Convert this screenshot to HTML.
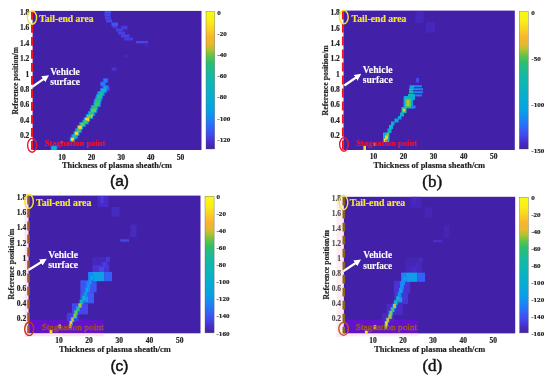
<!DOCTYPE html>
<html><head><meta charset="utf-8"><style>html,body{margin:0;padding:0;background:#fff;width:550px;height:382px;overflow:hidden}svg{display:block;will-change:transform}</style></head>
<body><svg width="550" height="382" viewBox="0 0 550 382"><defs><filter id="bl" x="-20%" y="-20%" width="140%" height="140%"><feGaussianBlur stdDeviation="0.65"/></filter><marker id="ah" viewBox="0 0 10 10" refX="6" refY="5" markerWidth="3.2" markerHeight="3.2" orient="auto"><path d="M0,0 L10,5 L0,10 z" fill="#fff"/></marker><linearGradient id="gcb" x1="0" y1="0" x2="0" y2="1"><stop offset="0.000" stop-color="#f9fa10"/><stop offset="0.070" stop-color="#faee16"/><stop offset="0.130" stop-color="#fad223"/><stop offset="0.190" stop-color="#f8b42d"/><stop offset="0.240" stop-color="#e6b92d"/><stop offset="0.280" stop-color="#aac330"/><stop offset="0.320" stop-color="#64c446"/><stop offset="0.370" stop-color="#2dbe6e"/><stop offset="0.450" stop-color="#16baa0"/><stop offset="0.550" stop-color="#0cb4be"/><stop offset="0.640" stop-color="#06acd4"/><stop offset="0.720" stop-color="#08a0e6"/><stop offset="0.780" stop-color="#1987f6"/><stop offset="0.830" stop-color="#2d6cfa"/><stop offset="0.900" stop-color="#4448eb"/><stop offset="0.950" stop-color="#482dc8"/><stop offset="1.000" stop-color="#4222a8"/></linearGradient><clipPath id="cpa"><rect x="32.6" y="10.9" width="168.90" height="139.10"/></clipPath><clipPath id="cpb"><rect x="343.5" y="10.6" width="171.30" height="139.40"/></clipPath><clipPath id="cpc"><rect x="28.3" y="195.6" width="172.20" height="137.70"/></clipPath><clipPath id="cpd"><rect x="343.6" y="196.8" width="171.60" height="136.60"/></clipPath></defs><rect x="32.6" y="10.9" width="168.90" height="139.10" fill="#4320a8"/><g clip-path="url(#cpa)"><g filter="url(#bl)"><rect x="104.5" y="11.2" width="6.50" height="2.30" fill="#3b55f2"/><rect x="104.5" y="13.5" width="6.00" height="3.00" fill="#4644eb"/><rect x="105" y="16.5" width="6.00" height="3.00" fill="#463fe4"/><rect x="106" y="19.5" width="6.00" height="3.00" fill="#4644eb"/><rect x="111.5" y="22.5" width="6.50" height="3.50" fill="#3b55f2"/><rect x="112.5" y="26" width="5.00" height="2.00" fill="#473add"/><rect x="121" y="25.7" width="6.50" height="3.80" fill="#473add"/><rect x="116" y="28.5" width="6.50" height="3.00" fill="#463fe4"/><rect x="118" y="31.5" width="7.00" height="3.00" fill="#463fe4"/><rect x="121" y="34.5" width="8.50" height="3.00" fill="#463fe4"/><rect x="124" y="37.5" width="9.00" height="3.00" fill="#473add"/><rect x="136" y="41" width="12.00" height="2.30" fill="#4644eb"/><rect x="145" y="44.5" width="3.00" height="2.10" fill="#472ac2"/><rect x="124.5" y="55" width="3.00" height="2.50" fill="#482cc8"/><rect x="111.5" y="67.7" width="5.10" height="2.80" fill="#4736d6"/><rect x="104.7" y="87" width="4.90" height="4.10" fill="#4644eb"/><rect x="102.8" y="78.2" width="5.40" height="4.60" fill="#3f4ff0"/><rect x="100.05" y="81.7" width="5.90" height="4.60" fill="#3f4ff0"/><rect x="102.3" y="85.2" width="6.40" height="4.60" fill="#3d53f1"/><rect x="100.05" y="88.2" width="6.90" height="4.60" fill="#2676fa"/><rect x="97.3" y="91.2" width="7.40" height="4.60" fill="#217cf9"/><rect x="96.05" y="94.2" width="6.90" height="4.60" fill="#1888f6"/><rect x="95.05" y="96.7" width="6.90" height="4.60" fill="#1b83f7"/><rect x="93.8" y="99.2" width="7.40" height="4.60" fill="#1888f6"/><rect x="93.3" y="102.2" width="7.40" height="4.60" fill="#1290f2"/><rect x="90.8" y="105.2" width="7.40" height="4.60" fill="#1888f6"/><rect x="89.8" y="108.2" width="7.40" height="4.60" fill="#0e98ec"/><rect x="87.8" y="111.2" width="7.40" height="4.60" fill="#1888f6"/><rect x="85.8" y="114.2" width="7.40" height="4.60" fill="#0c9be9"/><rect x="83.8" y="117.2" width="6.40" height="4.60" fill="#08a2e4"/><rect x="82.3" y="119.7" width="6.40" height="4.60" fill="#1290f2"/><rect x="79.3" y="122.2" width="6.40" height="4.60" fill="#0e98ec"/><rect x="77.05" y="125.2" width="5.90" height="4.60" fill="#08a2e4"/><rect x="75.3" y="128.20000000000002" width="6.40" height="4.60" fill="#1290f2"/><rect x="73.55" y="131.20000000000002" width="5.90" height="4.60" fill="#08a2e4"/><rect x="71.3" y="134.20000000000002" width="6.40" height="4.60" fill="#1888f6"/><rect x="69.8" y="137.20000000000002" width="5.40" height="4.60" fill="#08a2e4"/><rect x="104.0" y="78.8" width="3.00" height="3.40" fill="#227bf9"/><rect x="101.25" y="82.3" width="3.50" height="3.40" fill="#1a85f7"/><rect x="103.5" y="85.8" width="4.00" height="3.40" fill="#0c9be9"/><rect x="101.25" y="88.8" width="4.50" height="3.40" fill="#0eb8b9"/><rect x="98.5" y="91.8" width="5.00" height="3.40" fill="#12bcac"/><rect x="97.25" y="94.8" width="4.50" height="3.40" fill="#25c18a"/><rect x="96.25" y="97.3" width="4.50" height="3.40" fill="#1ebf98"/><rect x="95.0" y="99.8" width="5.00" height="3.40" fill="#25c18a"/><rect x="94.5" y="102.8" width="5.00" height="3.40" fill="#42c568"/><rect x="92.0" y="105.8" width="5.00" height="3.40" fill="#25c18a"/><rect x="91.0" y="108.8" width="5.00" height="3.40" fill="#69c847"/><rect x="89.0" y="111.8" width="5.00" height="3.40" fill="#25c18a"/><rect x="87.0" y="114.8" width="5.00" height="3.40" fill="#7dc73e"/><rect x="85.0" y="117.8" width="4.00" height="3.40" fill="#fbd423"/><rect x="83.5" y="120.3" width="4.00" height="3.40" fill="#42c568"/><rect x="80.5" y="122.8" width="4.00" height="3.40" fill="#69c847"/><rect x="78.25" y="125.8" width="3.50" height="3.40" fill="#fadc20"/><rect x="76.5" y="128.8" width="4.00" height="3.40" fill="#42c568"/><rect x="74.75" y="131.8" width="3.50" height="3.40" fill="#fbd423"/><rect x="72.5" y="134.8" width="4.00" height="3.40" fill="#25c18a"/><rect x="71.0" y="137.8" width="3.00" height="3.40" fill="#fadc20"/><rect x="91.2" y="114.6" width="1.60" height="2.00" fill="#f7b82e"/><rect x="50.8" y="145.5" width="6.50" height="4.50" fill="#227bf9"/><rect x="51.8" y="146.3" width="4.50" height="3.70" fill="#0eb8b9"/><rect x="60.7" y="141.2" width="2.30" height="2.40" fill="#08a2e4"/></g></g><rect x="206" y="11.5" width="8.70" height="137.50" fill="url(#gcb)" stroke="#555" stroke-width="0.35"/><text x="217.3" y="14.5" font-size="7.1" text-anchor="start" fill="#222" stroke="#222" stroke-width="0.18" font-family="Liberation Serif" font-weight="bold">0</text><text x="217.3" y="35.7" font-size="7.1" text-anchor="start" fill="#222" stroke="#222" stroke-width="0.18" font-family="Liberation Serif" font-weight="bold">-20</text><text x="217.3" y="56.9" font-size="7.1" text-anchor="start" fill="#222" stroke="#222" stroke-width="0.18" font-family="Liberation Serif" font-weight="bold">-40</text><text x="217.3" y="78.1" font-size="7.1" text-anchor="start" fill="#222" stroke="#222" stroke-width="0.18" font-family="Liberation Serif" font-weight="bold">-60</text><text x="217.3" y="99.3" font-size="7.1" text-anchor="start" fill="#222" stroke="#222" stroke-width="0.18" font-family="Liberation Serif" font-weight="bold">-80</text><text x="217.3" y="120.5" font-size="7.1" text-anchor="start" fill="#222" stroke="#222" stroke-width="0.18" font-family="Liberation Serif" font-weight="bold">-100</text><text x="217.3" y="141.7" font-size="7.1" text-anchor="start" fill="#222" stroke="#222" stroke-width="0.18" font-family="Liberation Serif" font-weight="bold">-120</text><text x="29.3" y="138.2" font-size="7.5" text-anchor="end" fill="#222" stroke="#222" stroke-width="0.18" font-family="Liberation Serif" font-weight="bold">0.2</text><text x="29.3" y="122.8" font-size="7.5" text-anchor="end" fill="#222" stroke="#222" stroke-width="0.18" font-family="Liberation Serif" font-weight="bold">0.4</text><text x="29.3" y="107.39999999999998" font-size="7.5" text-anchor="end" fill="#222" stroke="#222" stroke-width="0.18" font-family="Liberation Serif" font-weight="bold">0.6</text><text x="29.3" y="92.0" font-size="7.5" text-anchor="end" fill="#222" stroke="#222" stroke-width="0.18" font-family="Liberation Serif" font-weight="bold">0.8</text><text x="29.3" y="76.6" font-size="7.5" text-anchor="end" fill="#222" stroke="#222" stroke-width="0.18" font-family="Liberation Serif" font-weight="bold">1</text><text x="29.3" y="61.19999999999997" font-size="7.5" text-anchor="end" fill="#222" stroke="#222" stroke-width="0.18" font-family="Liberation Serif" font-weight="bold">1.2</text><text x="29.3" y="45.799999999999976" font-size="7.5" text-anchor="end" fill="#222" stroke="#222" stroke-width="0.18" font-family="Liberation Serif" font-weight="bold">1.4</text><text x="29.3" y="30.399999999999984" font-size="7.5" text-anchor="end" fill="#222" stroke="#222" stroke-width="0.18" font-family="Liberation Serif" font-weight="bold">1.6</text><text x="29.3" y="14.999999999999995" font-size="7.5" text-anchor="end" fill="#222" stroke="#222" stroke-width="0.18" font-family="Liberation Serif" font-weight="bold">1.8</text><text x="62.0" y="159.5" font-size="7.5" text-anchor="middle" fill="#222" stroke="#222" stroke-width="0.18" font-family="Liberation Serif" font-weight="bold">10</text><text x="91.6" y="159.5" font-size="7.5" text-anchor="middle" fill="#222" stroke="#222" stroke-width="0.18" font-family="Liberation Serif" font-weight="bold">20</text><text x="121.19999999999999" y="159.5" font-size="7.5" text-anchor="middle" fill="#222" stroke="#222" stroke-width="0.18" font-family="Liberation Serif" font-weight="bold">30</text><text x="150.8" y="159.5" font-size="7.5" text-anchor="middle" fill="#222" stroke="#222" stroke-width="0.18" font-family="Liberation Serif" font-weight="bold">40</text><text x="180.4" y="159.5" font-size="7.5" text-anchor="middle" fill="#222" stroke="#222" stroke-width="0.18" font-family="Liberation Serif" font-weight="bold">50</text><text x="62.0" y="167.9" font-size="8.2" text-anchor="start" fill="#222" stroke="#222" stroke-width="0.18" font-family="Liberation Serif" font-weight="bold" textLength="109.8" lengthAdjust="spacingAndGlyphs">Thickness of plasma sheath/cm</text><text x="0" y="0" font-size="8.4" fill="#222" stroke="#222" stroke-width="0.18" font-family="Liberation Serif" font-weight="bold" textLength="67.5" lengthAdjust="spacingAndGlyphs" transform="translate(17.5,114.6) rotate(-90)">Reference position/m</text><text x="119.5" y="186.29999999999998" font-size="15.5" text-anchor="middle" fill="#101010" stroke="#101010" stroke-width="0.5" font-family="Liberation Sans">(a)</text><line x1="32.0" y1="10.9" x2="32.0" y2="150" stroke="#f5141e" stroke-width="2" stroke-dasharray="8.8 4.2"/><ellipse cx="32" cy="17.6" rx="4.6" ry="6.6" fill="none" stroke="#f5e62d" stroke-width="1.4"/><ellipse cx="32.1" cy="145.3" rx="4.5" ry="6.9" fill="none" stroke="#f01428" stroke-width="1.4"/><text x="39.2" y="21.7" font-size="9.7" text-anchor="start" fill="#f5e632" stroke="#f5e632" stroke-width="0.18" font-family="Liberation Serif" font-weight="bold" textLength="54.4" lengthAdjust="spacingAndGlyphs">Tail-end area</text><text x="50.3" y="74.7" font-size="9.3" text-anchor="start" fill="#fff" stroke="#fff" stroke-width="0.1" font-family="Liberation Serif" font-weight="bold" textLength="29.6" lengthAdjust="spacingAndGlyphs">Vehicle</text><text x="50.3" y="84.9" font-size="9.3" text-anchor="start" fill="#fff" stroke="#fff" stroke-width="0.1" font-family="Liberation Serif" font-weight="bold" textLength="29.6" lengthAdjust="spacingAndGlyphs">surface</text><line x1="32" y1="87" x2="46.72" y2="76.88" stroke="#fff" stroke-width="2.2" marker-end="url(#ah)"/><text x="44.8" y="146.0" font-size="9" text-anchor="start" fill="#f0142d" stroke="#f0142d" stroke-width="0.18" font-family="Liberation Serif" font-weight="bold" textLength="60.599999999999994" lengthAdjust="spacingAndGlyphs">Stagnation point</text><rect x="343.5" y="10.6" width="171.30" height="139.40" fill="#4320a8"/><g clip-path="url(#cpb)"><g filter="url(#bl)"><rect x="415.7" y="11.3" width="7.90" height="11.70" fill="#4628bb"/><rect x="426" y="21.8" width="9.00" height="10.50" fill="#4628bb"/><rect x="415.9" y="78" width="3.20" height="4.60" fill="#4644eb"/><rect x="410" y="85.2" width="12.00" height="2.00" fill="#1a85f7"/><rect x="410" y="88.2" width="13.00" height="2.00" fill="#148df3"/><rect x="412" y="91.2" width="11.00" height="2.00" fill="#1a85f7"/><rect x="412" y="94.4" width="10.00" height="2.00" fill="#227bf9"/><rect x="409.5" y="85.5" width="4.50" height="2.50" fill="#08a6de"/><rect x="409" y="88.3" width="4.50" height="2.20" fill="#12bcac"/><rect x="409" y="90.5" width="4.00" height="3.00" fill="#0eb8b9"/><rect x="408" y="94" width="6.50" height="3.50" fill="#0eb8b9"/><rect x="403.5" y="97" width="9.50" height="11.50" fill="#08a2e4"/><rect x="404" y="96" width="11.00" height="4.00" fill="#08acd4"/><rect x="405" y="98.5" width="6.00" height="9.00" fill="#42c568"/><rect x="406.5" y="100" width="3.00" height="6.00" fill="#b7c32d"/><rect x="411.5" y="105.5" width="4.00" height="3.00" fill="#227bf9"/><rect x="401.5" y="107" width="5.00" height="6.00" fill="#25c18a"/><rect x="402.8" y="108.8" width="2.50" height="2.70" fill="#fcc728"/><rect x="400" y="112.5" width="4.00" height="4.00" fill="#08aed1"/><rect x="398" y="116" width="3.50" height="3.50" fill="#08a2e4"/><rect x="394.5" y="118.5" width="4.00" height="4.00" fill="#08aad8"/><rect x="391" y="121.5" width="3.50" height="4.00" fill="#08aed1"/><rect x="389" y="125" width="4.00" height="4.00" fill="#08b2cb"/><rect x="387.5" y="128.5" width="4.00" height="4.50" fill="#08acd4"/><rect x="383" y="132.5" width="6.50" height="9.50" fill="#08acd4"/><rect x="386.3" y="132.8" width="2.70" height="3.40" fill="#69c847"/><rect x="385" y="135.5" width="3.00" height="3.50" fill="#fcc728"/><rect x="384" y="138.5" width="2.60" height="3.30" fill="#fae41c"/><rect x="373" y="143" width="2.50" height="3.00" fill="#9bc631"/><rect x="363.4" y="145.8" width="2.60" height="4.20" fill="#fadc20"/></g></g><rect x="519.3" y="11.5" width="8.90" height="137.50" fill="url(#gcb)" stroke="#555" stroke-width="0.35"/><text x="531.3" y="14.5" font-size="7.1" text-anchor="start" fill="#222" stroke="#222" stroke-width="0.18" font-family="Liberation Serif" font-weight="bold">0</text><text x="531.3" y="60.5" font-size="7.1" text-anchor="start" fill="#222" stroke="#222" stroke-width="0.18" font-family="Liberation Serif" font-weight="bold">-50</text><text x="531.3" y="106.5" font-size="7.1" text-anchor="start" fill="#222" stroke="#222" stroke-width="0.18" font-family="Liberation Serif" font-weight="bold">-100</text><text x="531.3" y="152.5" font-size="7.1" text-anchor="start" fill="#222" stroke="#222" stroke-width="0.18" font-family="Liberation Serif" font-weight="bold">-150</text><text x="339.8" y="138.16" font-size="7.5" text-anchor="end" fill="#222" stroke="#222" stroke-width="0.18" font-family="Liberation Serif" font-weight="bold">0.2</text><text x="339.8" y="122.82" font-size="7.5" text-anchor="end" fill="#222" stroke="#222" stroke-width="0.18" font-family="Liberation Serif" font-weight="bold">0.4</text><text x="339.8" y="107.47999999999999" font-size="7.5" text-anchor="end" fill="#222" stroke="#222" stroke-width="0.18" font-family="Liberation Serif" font-weight="bold">0.6</text><text x="339.8" y="92.13999999999999" font-size="7.5" text-anchor="end" fill="#222" stroke="#222" stroke-width="0.18" font-family="Liberation Serif" font-weight="bold">0.8</text><text x="339.8" y="76.8" font-size="7.5" text-anchor="end" fill="#222" stroke="#222" stroke-width="0.18" font-family="Liberation Serif" font-weight="bold">1</text><text x="339.8" y="61.45999999999997" font-size="7.5" text-anchor="end" fill="#222" stroke="#222" stroke-width="0.18" font-family="Liberation Serif" font-weight="bold">1.2</text><text x="339.8" y="46.11999999999998" font-size="7.5" text-anchor="end" fill="#222" stroke="#222" stroke-width="0.18" font-family="Liberation Serif" font-weight="bold">1.4</text><text x="339.8" y="30.77999999999998" font-size="7.5" text-anchor="end" fill="#222" stroke="#222" stroke-width="0.18" font-family="Liberation Serif" font-weight="bold">1.6</text><text x="339.8" y="15.439999999999992" font-size="7.5" text-anchor="end" fill="#222" stroke="#222" stroke-width="0.18" font-family="Liberation Serif" font-weight="bold">1.8</text><text x="373.5" y="159.1" font-size="7.5" text-anchor="middle" fill="#222" stroke="#222" stroke-width="0.18" font-family="Liberation Serif" font-weight="bold">10</text><text x="403.54999999999995" y="159.1" font-size="7.5" text-anchor="middle" fill="#222" stroke="#222" stroke-width="0.18" font-family="Liberation Serif" font-weight="bold">20</text><text x="433.59999999999997" y="159.1" font-size="7.5" text-anchor="middle" fill="#222" stroke="#222" stroke-width="0.18" font-family="Liberation Serif" font-weight="bold">30</text><text x="463.65" y="159.1" font-size="7.5" text-anchor="middle" fill="#222" stroke="#222" stroke-width="0.18" font-family="Liberation Serif" font-weight="bold">40</text><text x="493.7" y="159.1" font-size="7.5" text-anchor="middle" fill="#222" stroke="#222" stroke-width="0.18" font-family="Liberation Serif" font-weight="bold">50</text><text x="373.4" y="168.29999999999998" font-size="8.2" text-anchor="start" fill="#222" stroke="#222" stroke-width="0.18" font-family="Liberation Serif" font-weight="bold" textLength="111.6" lengthAdjust="spacingAndGlyphs">Thickness of plasma sheath/cm</text><text x="0" y="0" font-size="8.4" fill="#222" stroke="#222" stroke-width="0.18" font-family="Liberation Serif" font-weight="bold" textLength="70.1" lengthAdjust="spacingAndGlyphs" transform="translate(327.9,115.39999999999999) rotate(-90)">Reference position/m</text><text x="432.2" y="186.5" font-size="17" text-anchor="middle" fill="#121212" stroke="#121212" stroke-width="0.45" font-family="Liberation Serif">(b)</text><line x1="342.9" y1="10.6" x2="342.9" y2="150" stroke="#f5141e" stroke-width="2" stroke-dasharray="8.8 4.2"/><ellipse cx="343.8" cy="17.1" rx="4.4" ry="6.7" fill="none" stroke="#f5e62d" stroke-width="1.4"/><ellipse cx="344" cy="144.4" rx="4.3" ry="6.8" fill="none" stroke="#f01428" stroke-width="1.4"/><text x="351.59999999999997" y="21.5" font-size="9.7" text-anchor="start" fill="#f5e632" stroke="#f5e632" stroke-width="0.18" font-family="Liberation Serif" font-weight="bold" textLength="54.8" lengthAdjust="spacingAndGlyphs">Tail-end area</text><text x="362.7" y="73.10000000000001" font-size="9.3" text-anchor="start" fill="#fff" stroke="#fff" stroke-width="0.1" font-family="Liberation Serif" font-weight="bold" textLength="30.0" lengthAdjust="spacingAndGlyphs">Vehicle</text><text x="362.7" y="83.0" font-size="9.3" text-anchor="start" fill="#fff" stroke="#fff" stroke-width="0.1" font-family="Liberation Serif" font-weight="bold" textLength="30.0" lengthAdjust="spacingAndGlyphs">surface</text><line x1="344.4" y1="85.5" x2="358.94" y2="75.47" stroke="#fff" stroke-width="2.2" marker-end="url(#ah)"/><text x="356.29999999999995" y="145.9" font-size="9" text-anchor="start" fill="#f0142d" stroke="#f0142d" stroke-width="0.18" font-family="Liberation Serif" font-weight="bold" textLength="60.8" lengthAdjust="spacingAndGlyphs">Stagnation point</text><rect x="28.3" y="195.6" width="172.20" height="137.70" fill="#4320a8"/><rect x="24.5" y="333.3" width="79.10" height="3" fill="#fbe6ee"/><rect x="24.5" y="194" width="3.80" height="143.00" fill="#fbe6ee"/><rect x="28.3" y="319.5" width="75.30" height="13.80" fill="#8c00ff" fill-opacity="0.4"/><g clip-path="url(#cpc)"><g filter="url(#bl)"><rect x="97.6" y="196" width="10.90" height="11.00" fill="#482cc8"/><rect x="100.5" y="196" width="3.00" height="7.00" fill="#473add"/><rect x="111.7" y="207" width="7.80" height="9.50" fill="#472ac2"/><rect x="130.5" y="224.4" width="6.30" height="12.60" fill="#4629be"/><rect x="120.3" y="239.3" width="8.70" height="2.40" fill="#424aed"/><rect x="92.4" y="257" width="17.00" height="7.70" fill="#4628bb"/><rect x="92.4" y="264.7" width="17.00" height="7.30" fill="#4831cf"/><rect x="106" y="257" width="4.00" height="5.00" fill="#4736d6"/><rect x="102" y="262" width="5.00" height="6.00" fill="#473add"/><rect x="99" y="267" width="5.00" height="5.00" fill="#4644eb"/><rect x="80.4" y="280.3" width="16.20" height="12.00" fill="#3b55f2"/><rect x="80.4" y="292.3" width="13.60" height="11.00" fill="#385bf5"/><rect x="72" y="303.3" width="16.00" height="11.10" fill="#4644eb"/><rect x="66.8" y="312.7" width="11.90" height="8.50" fill="#473add"/><rect x="88.1" y="272" width="4.90" height="9.20" fill="#1a85f7"/><rect x="93" y="272" width="11.50" height="9.20" fill="#0a9fe7"/><rect x="104.5" y="272" width="7.50" height="9.20" fill="#3461f7"/><rect x="86.4" y="281" width="3.40" height="11.00" fill="#1a85f7"/><rect x="82" y="296.5" width="6.00" height="5.10" fill="#08a2e4"/><rect x="89.4" y="275.4" width="4.20" height="5.20" fill="#227bf9"/><rect x="88.15" y="279.4" width="3.70" height="5.20" fill="#227bf9"/><rect x="86.65" y="283.4" width="3.70" height="5.20" fill="#227bf9"/><rect x="85.15" y="287.4" width="3.70" height="5.20" fill="#227bf9"/><rect x="83.65" y="291.4" width="3.70" height="5.20" fill="#227bf9"/><rect x="81.9" y="295.4" width="4.20" height="5.20" fill="#227bf9"/><rect x="79.4" y="299.4" width="4.20" height="5.20" fill="#227bf9"/><rect x="77.9" y="302.9" width="4.20" height="5.20" fill="#227bf9"/><rect x="75.9" y="306.4" width="4.20" height="5.20" fill="#227bf9"/><rect x="73.9" y="309.9" width="4.20" height="5.20" fill="#227bf9"/><rect x="72.9" y="313.4" width="4.20" height="5.20" fill="#227bf9"/><rect x="70.65" y="316.9" width="3.70" height="5.20" fill="#227bf9"/><rect x="69.15" y="320.4" width="3.70" height="5.20" fill="#227bf9"/><rect x="68.9" y="323.4" width="3.20" height="5.20" fill="#227bf9"/><rect x="90.0" y="276.0" width="3.00" height="4.00" fill="#08a2e4"/><rect x="88.75" y="280.0" width="2.50" height="4.00" fill="#1094ee"/><rect x="87.25" y="284.0" width="2.50" height="4.00" fill="#1291f1"/><rect x="85.75" y="288.0" width="2.50" height="4.00" fill="#08a2e4"/><rect x="84.25" y="292.0" width="2.50" height="4.00" fill="#0c9be9"/><rect x="82.5" y="296.0" width="3.00" height="4.00" fill="#08b2cb"/><rect x="80.0" y="300.0" width="3.00" height="4.00" fill="#0bb5c2"/><rect x="78.5" y="303.5" width="3.00" height="4.00" fill="#a5c62d"/><rect x="76.5" y="307.0" width="3.00" height="4.00" fill="#25c18a"/><rect x="74.5" y="310.5" width="3.00" height="4.00" fill="#58c752"/><rect x="73.5" y="314.0" width="3.00" height="4.00" fill="#7dc73e"/><rect x="71.25" y="317.5" width="2.50" height="4.00" fill="#cabf2d"/><rect x="69.75" y="321.0" width="2.50" height="4.00" fill="#fcc728"/><rect x="69.5" y="324.0" width="2.00" height="4.00" fill="#f7b82e"/><rect x="49.6" y="330" width="2.80" height="3.30" fill="#fadc20"/><rect x="58.5" y="324.5" width="2.50" height="4.00" fill="#cabf2d"/></g></g><rect x="205" y="196.2" width="9.10" height="136.70" fill="url(#gcb)" stroke="#555" stroke-width="0.35"/><text x="216.5" y="198.7" font-size="7.1" text-anchor="start" fill="#222" stroke="#222" stroke-width="0.18" font-family="Liberation Serif" font-weight="bold">0</text><text x="216.5" y="215.79999999999998" font-size="7.1" text-anchor="start" fill="#222" stroke="#222" stroke-width="0.18" font-family="Liberation Serif" font-weight="bold">-20</text><text x="216.5" y="232.89999999999998" font-size="7.1" text-anchor="start" fill="#222" stroke="#222" stroke-width="0.18" font-family="Liberation Serif" font-weight="bold">-40</text><text x="216.5" y="250.0" font-size="7.1" text-anchor="start" fill="#222" stroke="#222" stroke-width="0.18" font-family="Liberation Serif" font-weight="bold">-60</text><text x="216.5" y="267.1" font-size="7.1" text-anchor="start" fill="#222" stroke="#222" stroke-width="0.18" font-family="Liberation Serif" font-weight="bold">-80</text><text x="216.5" y="284.2" font-size="7.1" text-anchor="start" fill="#222" stroke="#222" stroke-width="0.18" font-family="Liberation Serif" font-weight="bold">-100</text><text x="216.5" y="301.3" font-size="7.1" text-anchor="start" fill="#222" stroke="#222" stroke-width="0.18" font-family="Liberation Serif" font-weight="bold">-120</text><text x="216.5" y="318.4" font-size="7.1" text-anchor="start" fill="#222" stroke="#222" stroke-width="0.18" font-family="Liberation Serif" font-weight="bold">-140</text><text x="216.5" y="335.5" font-size="7.1" text-anchor="start" fill="#222" stroke="#222" stroke-width="0.18" font-family="Liberation Serif" font-weight="bold">-160</text><text x="26.2" y="321.43999999999994" font-size="7.5" text-anchor="end" fill="#222" stroke="#222" stroke-width="0.18" font-family="Liberation Serif" font-weight="bold">0.2</text><text x="26.2" y="306.28" font-size="7.5" text-anchor="end" fill="#222" stroke="#222" stroke-width="0.18" font-family="Liberation Serif" font-weight="bold">0.4</text><text x="26.2" y="291.11999999999995" font-size="7.5" text-anchor="end" fill="#222" stroke="#222" stroke-width="0.18" font-family="Liberation Serif" font-weight="bold">0.6</text><text x="26.2" y="275.96" font-size="7.5" text-anchor="end" fill="#222" stroke="#222" stroke-width="0.18" font-family="Liberation Serif" font-weight="bold">0.8</text><text x="26.2" y="260.79999999999995" font-size="7.5" text-anchor="end" fill="#222" stroke="#222" stroke-width="0.18" font-family="Liberation Serif" font-weight="bold">1</text><text x="26.2" y="245.64" font-size="7.5" text-anchor="end" fill="#222" stroke="#222" stroke-width="0.18" font-family="Liberation Serif" font-weight="bold">1.2</text><text x="26.2" y="230.48" font-size="7.5" text-anchor="end" fill="#222" stroke="#222" stroke-width="0.18" font-family="Liberation Serif" font-weight="bold">1.4</text><text x="26.2" y="215.32" font-size="7.5" text-anchor="end" fill="#222" stroke="#222" stroke-width="0.18" font-family="Liberation Serif" font-weight="bold">1.6</text><text x="26.2" y="200.16" font-size="7.5" text-anchor="end" fill="#222" stroke="#222" stroke-width="0.18" font-family="Liberation Serif" font-weight="bold">1.8</text><text x="58.9" y="343.1" font-size="7.5" text-anchor="middle" fill="#222" stroke="#222" stroke-width="0.18" font-family="Liberation Serif" font-weight="bold">10</text><text x="89.1" y="343.1" font-size="7.5" text-anchor="middle" fill="#222" stroke="#222" stroke-width="0.18" font-family="Liberation Serif" font-weight="bold">20</text><text x="119.3" y="343.1" font-size="7.5" text-anchor="middle" fill="#222" stroke="#222" stroke-width="0.18" font-family="Liberation Serif" font-weight="bold">30</text><text x="149.5" y="343.1" font-size="7.5" text-anchor="middle" fill="#222" stroke="#222" stroke-width="0.18" font-family="Liberation Serif" font-weight="bold">40</text><text x="179.7" y="343.1" font-size="7.5" text-anchor="middle" fill="#222" stroke="#222" stroke-width="0.18" font-family="Liberation Serif" font-weight="bold">50</text><text x="58.900000000000006" y="352.1" font-size="8.2" text-anchor="start" fill="#222" stroke="#222" stroke-width="0.18" font-family="Liberation Serif" font-weight="bold" textLength="112" lengthAdjust="spacingAndGlyphs">Thickness of plasma sheath/cm</text><text x="0" y="0" font-size="8.4" fill="#222" stroke="#222" stroke-width="0.18" font-family="Liberation Serif" font-weight="bold" textLength="70.8" lengthAdjust="spacingAndGlyphs" transform="translate(14.1,299.6) rotate(-90)">Reference position/m</text><text x="119.5" y="371.40000000000003" font-size="15.5" text-anchor="middle" fill="#101010" stroke="#101010" stroke-width="0.5" font-family="Liberation Sans">(c)</text><line x1="28.5" y1="195.6" x2="28.5" y2="333.3" stroke="#a05a28" stroke-width="2.6" stroke-dasharray="8.8 4.2"/><ellipse cx="29" cy="201.4" rx="4.3" ry="6.9" fill="none" stroke="#f5e62d" stroke-width="1.4"/><ellipse cx="29.2" cy="328.9" rx="4.5" ry="6.6" fill="none" stroke="#c83020" stroke-width="1.4"/><text x="36.0" y="205.9" font-size="9.7" text-anchor="start" fill="#f5e632" stroke="#f5e632" stroke-width="0.18" font-family="Liberation Serif" font-weight="bold" textLength="55.4" lengthAdjust="spacingAndGlyphs">Tail-end area</text><text x="48.3" y="257.7" font-size="9.3" text-anchor="start" fill="#fff" stroke="#fff" stroke-width="0.1" font-family="Liberation Serif" font-weight="bold" textLength="29.8" lengthAdjust="spacingAndGlyphs">Vehicle</text><text x="48.3" y="268.3" font-size="9.3" text-anchor="start" fill="#fff" stroke="#fff" stroke-width="0.1" font-family="Liberation Serif" font-weight="bold" textLength="29.8" lengthAdjust="spacingAndGlyphs">surface</text><line x1="28.5" y1="270" x2="44.32" y2="260.25" stroke="#fff" stroke-width="2.2" marker-end="url(#ah)"/><text x="41.7" y="329.59999999999997" font-size="9" text-anchor="start" fill="#b05a10" stroke="#b05a10" stroke-width="0.3" font-family="Liberation Serif" fill-opacity="0.75" textLength="62" lengthAdjust="spacingAndGlyphs">Stagnation point</text><rect x="343.6" y="196.8" width="171.60" height="136.60" fill="#4320a8"/><rect x="336.5" y="333.4" width="81.50" height="3" fill="#fcecf2"/><rect x="336.5" y="195" width="7.10" height="142.00" fill="#fcecf2"/><rect x="343.6" y="319.5" width="74.40" height="13.90" fill="#8c00ff" fill-opacity="0.4"/><g clip-path="url(#cpd)"><g filter="url(#bl)"><rect x="410.4" y="196.6" width="10.90" height="11.00" fill="#4527b8"/><rect x="413.3" y="196.6" width="3.00" height="7.00" fill="#472ac2"/><rect x="424.5" y="207.6" width="7.80" height="9.50" fill="#4426b5"/><rect x="443.3" y="225.0" width="6.30" height="12.60" fill="#4426b3"/><rect x="433.1" y="239.9" width="8.70" height="2.40" fill="#482ecc"/><rect x="405.20000000000005" y="257.6" width="17.00" height="7.70" fill="#4425b2"/><rect x="405.20000000000005" y="265.3" width="17.00" height="7.30" fill="#4628bb"/><rect x="418.8" y="257.6" width="4.00" height="5.00" fill="#4629be"/><rect x="414.8" y="262.6" width="5.00" height="6.00" fill="#472ac2"/><rect x="411.8" y="267.6" width="5.00" height="5.00" fill="#482cc8"/><rect x="393.91499999999996" y="280.90000000000003" width="16.20" height="12.00" fill="#4733d2"/><rect x="394.49" y="292.90000000000003" width="13.60" height="11.00" fill="#4736d6"/><rect x="386.64250000000004" y="303.90000000000003" width="16.00" height="11.10" fill="#482cc8"/><rect x="381.8475" y="313.3" width="11.90" height="8.50" fill="#472ac2"/><rect x="401.13" y="272.6" width="4.90" height="9.20" fill="#1a85f7"/><rect x="406.03000000000003" y="272.6" width="11.50" height="9.20" fill="#0a9fe7"/><rect x="417.53000000000003" y="272.6" width="7.50" height="9.20" fill="#3461f7"/><rect x="399.92500000000007" y="281.6" width="3.40" height="11.00" fill="#1a85f7"/><rect x="396.15250000000003" y="297.1" width="6.00" height="5.10" fill="#08a2e4"/><rect x="402.5" y="276.0" width="4.20" height="5.20" fill="#227bf9"/><rect x="401.45000000000005" y="280.0" width="3.70" height="5.20" fill="#227bf9"/><rect x="400.15" y="284.0" width="3.70" height="5.20" fill="#227bf9"/><rect x="398.85" y="288.0" width="3.70" height="5.20" fill="#227bf9"/><rect x="397.55000000000007" y="292.0" width="3.70" height="5.20" fill="#227bf9"/><rect x="396.0" y="296.0" width="4.20" height="5.20" fill="#227bf9"/><rect x="393.70000000000005" y="300.0" width="4.20" height="5.20" fill="#227bf9"/><rect x="392.375" y="303.5" width="4.20" height="5.20" fill="#227bf9"/><rect x="390.55000000000007" y="307.0" width="4.20" height="5.20" fill="#227bf9"/><rect x="388.725" y="310.5" width="4.20" height="5.20" fill="#227bf9"/><rect x="387.9" y="314.0" width="4.20" height="5.20" fill="#227bf9"/><rect x="385.82500000000005" y="317.5" width="3.70" height="5.20" fill="#227bf9"/><rect x="384.45000000000005" y="321.0" width="3.70" height="5.20" fill="#227bf9"/><rect x="384.20000000000005" y="324.0" width="3.20" height="5.20" fill="#227bf9"/><rect x="403.1" y="276.6" width="3.00" height="4.00" fill="#08a2e4"/><rect x="402.05" y="280.6" width="2.50" height="4.00" fill="#1094ee"/><rect x="400.75" y="284.6" width="2.50" height="4.00" fill="#1291f1"/><rect x="399.45" y="288.6" width="2.50" height="4.00" fill="#08a2e4"/><rect x="398.15000000000003" y="292.6" width="2.50" height="4.00" fill="#0c9be9"/><rect x="396.6" y="296.6" width="3.00" height="4.00" fill="#0fb9b5"/><rect x="394.3" y="300.6" width="3.00" height="4.00" fill="#12bcac"/><rect x="392.975" y="304.1" width="3.00" height="4.00" fill="#d3be2d"/><rect x="391.15000000000003" y="307.6" width="3.00" height="4.00" fill="#42c568"/><rect x="389.325" y="311.1" width="3.00" height="4.00" fill="#87c73a"/><rect x="388.5" y="314.6" width="3.00" height="4.00" fill="#aec42d"/><rect x="386.425" y="318.1" width="2.50" height="4.00" fill="#e8b72e"/><rect x="385.05" y="321.6" width="2.50" height="4.00" fill="#fadc20"/><rect x="384.8" y="324.6" width="2.00" height="4.00" fill="#fcc728"/><rect x="364.90000000000003" y="330.6" width="2.80" height="3.30" fill="#faec17"/><rect x="373.8" y="325.1" width="2.50" height="4.00" fill="#e8b72e"/></g></g><rect x="519.6" y="197.2" width="8.70" height="135.70" fill="url(#gcb)" stroke="#555" stroke-width="0.35"/><text x="531.2" y="200.2" font-size="7.1" text-anchor="start" fill="#222" stroke="#222" stroke-width="0.18" font-family="Liberation Serif" font-weight="bold">0</text><text x="531.2" y="217.16" font-size="7.1" text-anchor="start" fill="#222" stroke="#222" stroke-width="0.18" font-family="Liberation Serif" font-weight="bold">-20</text><text x="531.2" y="234.12" font-size="7.1" text-anchor="start" fill="#222" stroke="#222" stroke-width="0.18" font-family="Liberation Serif" font-weight="bold">-40</text><text x="531.2" y="251.07999999999998" font-size="7.1" text-anchor="start" fill="#222" stroke="#222" stroke-width="0.18" font-family="Liberation Serif" font-weight="bold">-60</text><text x="531.2" y="268.03999999999996" font-size="7.1" text-anchor="start" fill="#222" stroke="#222" stroke-width="0.18" font-family="Liberation Serif" font-weight="bold">-80</text><text x="531.2" y="285.0" font-size="7.1" text-anchor="start" fill="#222" stroke="#222" stroke-width="0.18" font-family="Liberation Serif" font-weight="bold">-100</text><text x="531.2" y="301.96" font-size="7.1" text-anchor="start" fill="#222" stroke="#222" stroke-width="0.18" font-family="Liberation Serif" font-weight="bold">-120</text><text x="531.2" y="318.91999999999996" font-size="7.1" text-anchor="start" fill="#222" stroke="#222" stroke-width="0.18" font-family="Liberation Serif" font-weight="bold">-140</text><text x="531.2" y="335.88" font-size="7.1" text-anchor="start" fill="#222" stroke="#222" stroke-width="0.18" font-family="Liberation Serif" font-weight="bold">-160</text><text x="341" y="321.4" font-size="7.5" text-anchor="end" fill="#4a4a4a" stroke="#4a4a4a" stroke-width="0.1" font-family="Liberation Serif" font-weight="bold">0.2</text><text x="341" y="306.3" font-size="7.5" text-anchor="end" fill="#4a4a4a" stroke="#4a4a4a" stroke-width="0.1" font-family="Liberation Serif" font-weight="bold">0.4</text><text x="341" y="291.2" font-size="7.5" text-anchor="end" fill="#4a4a4a" stroke="#4a4a4a" stroke-width="0.1" font-family="Liberation Serif" font-weight="bold">0.6</text><text x="341" y="276.1" font-size="7.5" text-anchor="end" fill="#4a4a4a" stroke="#4a4a4a" stroke-width="0.1" font-family="Liberation Serif" font-weight="bold">0.8</text><text x="341" y="261.0" font-size="7.5" text-anchor="end" fill="#4a4a4a" stroke="#4a4a4a" stroke-width="0.1" font-family="Liberation Serif" font-weight="bold">1</text><text x="341" y="245.9" font-size="7.5" text-anchor="end" fill="#4a4a4a" stroke="#4a4a4a" stroke-width="0.1" font-family="Liberation Serif" font-weight="bold">1.2</text><text x="341" y="230.8" font-size="7.5" text-anchor="end" fill="#4a4a4a" stroke="#4a4a4a" stroke-width="0.1" font-family="Liberation Serif" font-weight="bold">1.4</text><text x="341" y="215.70000000000002" font-size="7.5" text-anchor="end" fill="#4a4a4a" stroke="#4a4a4a" stroke-width="0.1" font-family="Liberation Serif" font-weight="bold">1.6</text><text x="341" y="200.60000000000002" font-size="7.5" text-anchor="end" fill="#4a4a4a" stroke="#4a4a4a" stroke-width="0.1" font-family="Liberation Serif" font-weight="bold">1.8</text><text x="372.90000000000003" y="342.8" font-size="7.5" text-anchor="middle" fill="#222" stroke="#222" stroke-width="0.18" font-family="Liberation Serif" font-weight="bold">10</text><text x="403.0" y="342.8" font-size="7.5" text-anchor="middle" fill="#222" stroke="#222" stroke-width="0.18" font-family="Liberation Serif" font-weight="bold">20</text><text x="433.1" y="342.8" font-size="7.5" text-anchor="middle" fill="#222" stroke="#222" stroke-width="0.18" font-family="Liberation Serif" font-weight="bold">30</text><text x="463.2" y="342.8" font-size="7.5" text-anchor="middle" fill="#222" stroke="#222" stroke-width="0.18" font-family="Liberation Serif" font-weight="bold">40</text><text x="493.3" y="342.8" font-size="7.5" text-anchor="middle" fill="#222" stroke="#222" stroke-width="0.18" font-family="Liberation Serif" font-weight="bold">50</text><text x="374.3" y="351.6" font-size="8.2" text-anchor="start" fill="#222" stroke="#222" stroke-width="0.18" font-family="Liberation Serif" font-weight="bold" textLength="110.8" lengthAdjust="spacingAndGlyphs">Thickness of plasma sheath/cm</text><text x="0" y="0" font-size="8.4" fill="#222" stroke="#222" stroke-width="0.18" font-family="Liberation Serif" font-weight="bold" textLength="69.5" lengthAdjust="spacingAndGlyphs" transform="translate(329.1,299.6) rotate(-90)">Reference position/m</text><text x="432.3" y="371.0" font-size="17" text-anchor="middle" fill="#121212" stroke="#121212" stroke-width="0.45" font-family="Liberation Serif">(d)</text><line x1="343.8" y1="196.8" x2="343.8" y2="333.4" stroke="#8c6420" stroke-width="2.6" stroke-dasharray="8.8 4.2"/><ellipse cx="343.5" cy="202.6" rx="4.3" ry="7.2" fill="none" stroke="#f5e62d" stroke-width="1.4"/><ellipse cx="343.6" cy="328.8" rx="4.8" ry="6.4" fill="none" stroke="#c05020" stroke-width="1.4"/><text x="349.8" y="206.3" font-size="9.7" text-anchor="start" fill="#f5e632" stroke="#f5e632" stroke-width="0.18" font-family="Liberation Serif" font-weight="bold" textLength="55.4" lengthAdjust="spacingAndGlyphs">Tail-end area</text><text x="363.3" y="258.4" font-size="9.3" text-anchor="start" fill="#fff" stroke="#fff" stroke-width="0.1" font-family="Liberation Serif" font-weight="bold" textLength="28.8" lengthAdjust="spacingAndGlyphs">Vehicle</text><text x="363.3" y="269.0" font-size="9.3" text-anchor="start" fill="#fff" stroke="#fff" stroke-width="0.1" font-family="Liberation Serif" font-weight="bold" textLength="28.8" lengthAdjust="spacingAndGlyphs">surface</text><line x1="343.5" y1="271.2" x2="358.68" y2="260.99" stroke="#fff" stroke-width="2.2" marker-end="url(#ah)"/><text x="355.7" y="329.59999999999997" font-size="9" text-anchor="start" fill="#a86410" stroke="#a86410" stroke-width="0.3" font-family="Liberation Serif" fill-opacity="0.75" textLength="61.5" lengthAdjust="spacingAndGlyphs">Stagnation point</text></svg></body></html>
